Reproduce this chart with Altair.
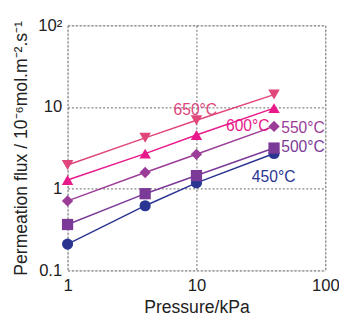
import altair as alt
import pandas as pd

pressure = [1, 4, 10, 40]
series = ["450°C", "500°C", "550°C", "600°C", "650°C"]
flux_450 = [0.21, 0.62, 1.18, 2.7]
flux_500 = [0.365, 0.87, 1.45, 3.15]
flux_550 = [0.71, 1.58, 2.64, 5.8]
flux_600 = [1.28, 2.69, 4.55, 9.7]
flux_650 = [1.95, 4.2, 6.9, 14.2]
colors = ["#2a3592", "#7b3a98", "#9b3d98", "#e8198a", "#e0457b"]
shapes = ["circle", "square", "diamond", "triangle-up", "triangle-down"]
marker_sizes = [130, 140, 90, 120, 120]

# label anchors (data coordinates)
label_x = [39.7, 45.5, 45.5, 25.0, 9.8]
label_y = [1.40, 3.2, 5.55, 5.8, 9.3]
label_align = ["center", "left", "left", "center", "center"]

rows = []
for s, vals in zip(series, [flux_450, flux_500, flux_550, flux_600, flux_650]):
    for p, v in zip(pressure, vals):
        rows.append({"series": s, "p": p, "flux": v})
df = pd.DataFrame(rows)
lab = pd.DataFrame({"series": series, "x": label_x, "y": label_y, "align": label_align})

FONT = "Liberation Sans, Arial, sans-serif"

xs = alt.Scale(type="log", domain=[1, 100])
ys = alt.Scale(type="log", domain=[0.1, 100])
cs = alt.Scale(domain=series, range=colors)
ss = alt.Scale(domain=series, range=shapes)
zs = alt.Scale(domain=series, range=marker_sizes)

xax = alt.Axis(values=[1, 10, 100], format="d", title="Pressure/kPa", grid=True,
               gridDash=[2, 2], gridColor="#555", gridOpacity=0.9, ticks=False,
               labelPadding=8, titlePadding=5, labelFontSize=17, titleFontSize=18,
               labelFont=FONT, titleFont=FONT, labelColor="#222", titleColor="#222",
               titleFontWeight="normal", domain=False, labelFlush=False)
yax = alt.Axis(values=[0.1, 1, 10, 100],
               labelExpr="datum.value >= 100 ? '10²' : datum.value >= 10 ? '10' : datum.value >= 1 ? '1' : '0.1'",
               title="Permeation flux / 10⁻⁶mol.m⁻².s⁻¹", grid=True,
               gridDash=[2, 2], gridColor="#555", gridOpacity=0.9, ticks=False,
               labelPadding=6, titlePadding=7, labelFontSize=17, titleFontSize=18,
               labelFont=FONT, titleFont=FONT, labelColor="#222", titleColor="#222",
               titleFontWeight="normal", domain=False, labelFlush=False)

lines = alt.Chart(df).mark_line(strokeWidth=1.5).encode(
    x=alt.X("p:Q", scale=xs, axis=xax),
    y=alt.Y("flux:Q", scale=ys, axis=yax),
    color=alt.Color("series:N", scale=cs, legend=None),
    detail="series:N",
)
points = alt.Chart(df).mark_point(filled=True, opacity=1).encode(
    x=alt.X("p:Q", scale=xs),
    y=alt.Y("flux:Q", scale=ys),
    color=alt.Color("series:N", scale=cs, legend=None),
    shape=alt.Shape("series:N", scale=ss, legend=None),
    size=alt.Size("series:N", scale=zs, legend=None),
)
def label_layer(align):
    return alt.Chart(lab[lab["align"] == align]).mark_text(
        font=FONT, fontSize=16, align=align, baseline="middle").encode(
        x=alt.X("x:Q", scale=xs),
        y=alt.Y("y:Q", scale=ys),
        text="series:N",
        color=alt.Color("series:N", scale=cs, legend=None),
    )

chart = alt.layer(lines, points, label_layer("center"), label_layer("left")).properties(
    width=264, height=251,
    autosize=alt.AutoSizeParams(type="none"),
    padding={"left": 61, "top": 14, "right": 14, "bottom": 48},
).configure_view(stroke="#000", strokeWidth=1.2).configure(background="white")

chart.save("out.html", embed_options={"renderer": "svg", "actions": False})
